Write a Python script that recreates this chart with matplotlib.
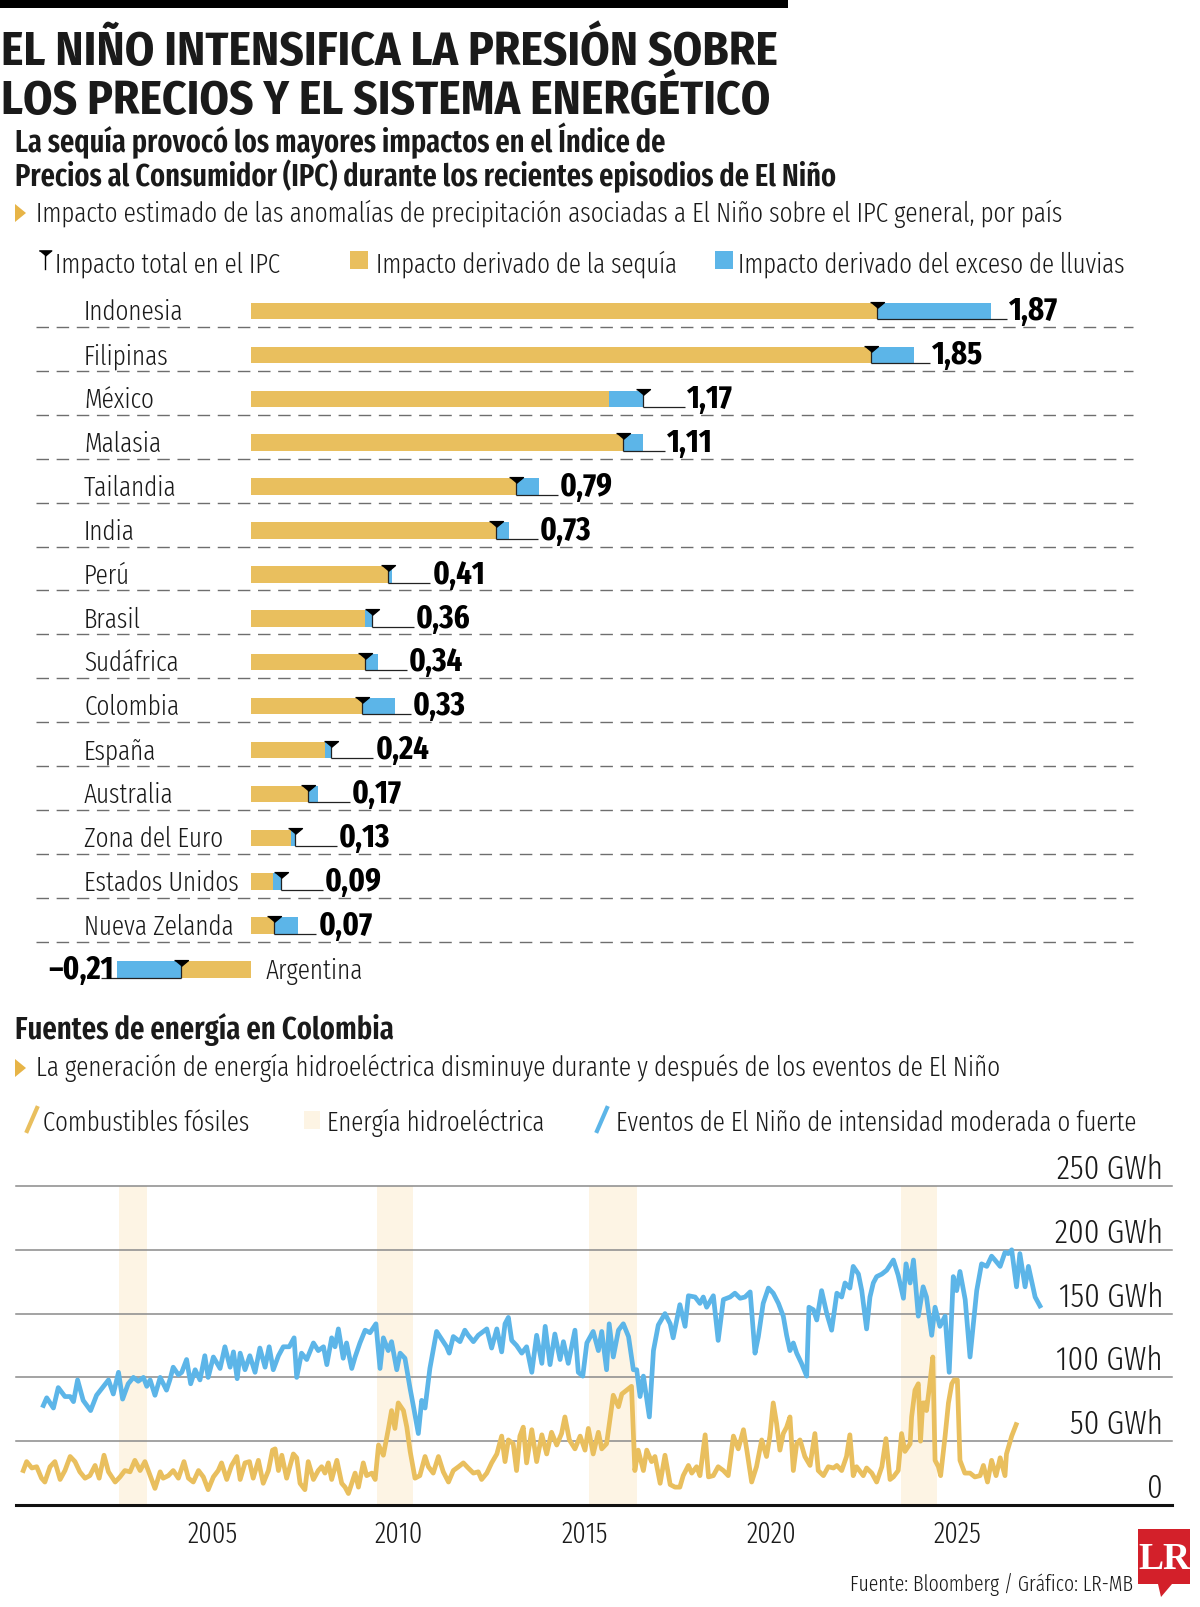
import numpy as np
import matplotlib
matplotlib.use("Agg")
import matplotlib.pyplot as plt
import matplotlib.transforms as mtransforms
from matplotlib.lines import Line2D
from matplotlib.patches import Polygon, Rectangle

# --- datos: impacto en el IPC por país ---
paises = ["Indonesia", "Filipinas", "México", "Malasia", "Tailandia", "India", "Perú", "Brasil",
          "Sudáfrica", "Colombia", "España", "Australia", "Zona del Euro", "Estados Unidos",
          "Nueva Zelanda", "Argentina"]
impacto_total = [1.87, 1.85, 1.17, 1.11, 0.79, 0.73, 0.41, 0.36, 0.34, 0.33, 0.24, 0.17, 0.13, 0.09,
                 0.07, -0.21]
impacto_sequia = [2.21, 1.98, 1.07, 1.17, 0.86, 0.77, 0.42, 0.34, 0.38, 0.43, 0.22, 0.20, 0.12, 0.065,
                  0.14, -0.40]

# --- datos: generación eléctrica en Colombia (GWh) ---
hidro_anio = [2000.44, 2000.53, 2000.71, 2000.84, 2001.02, 2001.16, 2001.25, 2001.36, 2001.51, 2001.71,
              2001.87, 2002.19, 2002.32, 2002.46, 2002.57, 2002.72, 2002.86, 2002.99, 2003.13, 2003.22,
              2003.31, 2003.44, 2003.58, 2003.75, 2003.84, 2003.93, 2004.07, 2004.16, 2004.29, 2004.40,
              2004.52, 2004.65, 2004.78, 2004.87, 2005.01, 2005.19, 2005.32, 2005.46, 2005.55, 2005.65,
              2005.73, 2005.86, 2005.99, 2006.13, 2006.26, 2006.40, 2006.51, 2006.62, 2006.76, 2006.89,
              2007.05, 2007.18, 2007.25, 2007.38, 2007.52, 2007.70, 2007.83, 2007.97, 2008.06, 2008.19,
              2008.28, 2008.37, 2008.50, 2008.59, 2008.73, 2008.82, 2008.95, 2009.09, 2009.22, 2009.38,
              2009.49, 2009.58, 2009.71, 2009.80, 2009.94, 2010.03, 2010.16, 2010.30, 2010.39, 2010.52,
              2010.61, 2010.70, 2010.83, 2011.01, 2011.28, 2011.35, 2011.46, 2011.64, 2011.77, 2011.86,
              2012.00, 2012.13, 2012.36, 2012.49, 2012.63, 2012.76, 2012.85, 2012.94, 2013.03, 2013.16,
              2013.30, 2013.43, 2013.57, 2013.70, 2013.84, 2013.93, 2014.06, 2014.19, 2014.33, 2014.42,
              2014.55, 2014.73, 2014.82, 2014.94, 2015.05, 2015.22, 2015.36, 2015.45, 2015.58, 2015.65,
              2015.76, 2015.90, 2016.03, 2016.17, 2016.30, 2016.39, 2016.48, 2016.57, 2016.73, 2016.84,
              2016.97, 2017.15, 2017.29, 2017.37, 2017.55, 2017.69, 2017.78, 2017.96, 2018.09, 2018.18,
              2018.27, 2018.45, 2018.58, 2018.72, 2018.90, 2019.03, 2019.17, 2019.30, 2019.44, 2019.57,
              2019.66, 2019.79, 2019.93, 2020.06, 2020.20, 2020.33, 2020.42, 2020.51, 2020.60, 2020.69,
              2020.82, 2020.96, 2021.02, 2021.14, 2021.23, 2021.36, 2021.50, 2021.63, 2021.77, 2021.90,
              2021.99, 2022.12, 2022.21, 2022.35, 2022.44, 2022.57, 2022.66, 2022.75, 2022.84, 2022.98,
              2023.11, 2023.29, 2023.42, 2023.56, 2023.63, 2023.74, 2023.83, 2023.96, 2024.09, 2024.18,
              2024.32, 2024.41, 2024.54, 2024.68, 2024.79, 2024.90, 2024.99, 2025.08, 2025.22, 2025.35,
              2025.53, 2025.66, 2025.80, 2025.93, 2026.02, 2026.16, 2026.29, 2026.38, 2026.47, 2026.60,
              2026.69, 2026.83, 2026.92, 2027.10, 2027.23]
hidro_gwh = [78, 84, 76, 92, 85, 85, 81, 98, 82, 74,
             86, 98, 87, 104, 83, 95, 100, 97, 100, 93,
             98, 86, 100, 90, 98, 108, 102, 104, 114, 95,
             106, 98, 117, 100, 116, 107, 124, 108, 120, 99,
             119, 106, 117, 104, 123, 108, 124, 106, 117, 124,
             124, 131, 100, 119, 114, 127, 121, 124, 110, 131,
             124, 138, 115, 127, 107, 116, 127, 137, 135, 142,
             107, 131, 121, 128, 106, 119, 115, 91, 77, 56,
             82, 76, 107, 136, 124, 119, 132, 128, 137, 133,
             128, 133, 138, 123, 138, 120, 142, 147, 129, 125,
             119, 124, 104, 133, 111, 140, 110, 134, 114, 128,
             111, 137, 104, 101, 127, 136, 121, 136, 106, 142,
             116, 137, 142, 132, 106, 106, 85, 101, 69, 121,
             141, 150, 142, 131, 157, 140, 164, 163, 158, 163,
             155, 164, 129, 161, 163, 166, 162, 163, 167, 119,
             132, 158, 170, 166, 158, 148, 133, 121, 127, 119,
             111, 101, 155, 153, 145, 168, 150, 137, 166, 163,
             174, 170, 187, 181, 168, 138, 163, 174, 179, 181,
             184, 192, 180, 162, 189, 174, 192, 148, 171, 163,
             133, 155, 140, 148, 104, 179, 168, 183, 161, 116,
             168, 189, 187, 195, 192, 187, 198, 197, 200, 171,
             197, 171, 187, 163, 156]

fosil_anio = [1999.90, 1999.99, 2000.13, 2000.26, 2000.39, 2000.48, 2000.62, 2000.75, 2000.89, 2001.02,
              2001.16, 2001.29, 2001.42, 2001.56, 2001.69, 2001.83, 2001.94, 2002.07, 2002.19, 2002.37,
              2002.50, 2002.63, 2002.77, 2002.90, 2003.04, 2003.17, 2003.31, 2003.44, 2003.58, 2003.66,
              2003.80, 2003.93, 2004.07, 2004.22, 2004.34, 2004.47, 2004.61, 2004.74, 2004.87, 2005.01,
              2005.14, 2005.23, 2005.37, 2005.50, 2005.64, 2005.73, 2005.86, 2005.98, 2006.08, 2006.22,
              2006.35, 2006.49, 2006.60, 2006.67, 2006.76, 2006.85, 2006.98, 2007.16, 2007.25, 2007.34,
              2007.47, 2007.56, 2007.70, 2007.83, 2007.92, 2008.01, 2008.10, 2008.19, 2008.33, 2008.46,
              2008.55, 2008.64, 2008.73, 2008.82, 2008.91, 2009.04, 2009.13, 2009.27, 2009.36, 2009.45,
              2009.58, 2009.71, 2009.80, 2009.89, 2009.98, 2010.12, 2010.21, 2010.30, 2010.43, 2010.56,
              2010.70, 2010.79, 2010.92, 2011.06, 2011.19, 2011.33, 2011.46, 2011.60, 2011.73, 2011.86,
              2012.00, 2012.13, 2012.22, 2012.36, 2012.49, 2012.63, 2012.76, 2012.85, 2012.94, 2013.07,
              2013.16, 2013.25, 2013.34, 2013.43, 2013.57, 2013.70, 2013.84, 2013.97, 2014.10, 2014.24,
              2014.37, 2014.46, 2014.58, 2014.73, 2014.87, 2015.00, 2015.09, 2015.22, 2015.36, 2015.45,
              2015.58, 2015.76, 2015.90, 2015.99, 2016.12, 2016.25, 2016.34, 2016.43, 2016.57, 2016.66,
              2016.79, 2016.88, 2017.02, 2017.15, 2017.29, 2017.42, 2017.55, 2017.64, 2017.78, 2017.87,
              2018.00, 2018.09, 2018.23, 2018.32, 2018.45, 2018.58, 2018.72, 2018.85, 2018.99, 2019.12,
              2019.26, 2019.35, 2019.48, 2019.61, 2019.75, 2019.88, 2019.97, 2020.06, 2020.15, 2020.24,
              2020.33, 2020.42, 2020.51, 2020.60, 2020.69, 2020.78, 2020.91, 2021.05, 2021.18, 2021.27,
              2021.41, 2021.54, 2021.68, 2021.77, 2021.90, 2022.03, 2022.12, 2022.21, 2022.30, 2022.48,
              2022.57, 2022.71, 2022.84, 2022.98, 2023.09, 2023.20, 2023.29, 2023.42, 2023.51, 2023.60,
              2023.74, 2023.78, 2023.87, 2023.96, 2024.02, 2024.08, 2024.14, 2024.18, 2024.27, 2024.35,
              2024.41, 2024.50, 2024.56, 2024.68, 2024.77, 2024.86, 2024.92, 2025.01, 2025.08, 2025.21,
              2025.35, 2025.48, 2025.62, 2025.71, 2025.82, 2025.93, 2026.05, 2026.16, 2026.29, 2026.33,
              2026.47, 2026.59]
fosil_gwh = [27, 34, 29, 30, 21, 18, 30, 34, 20, 27,
             38, 34, 26, 21, 23, 31, 21, 39, 26, 18,
             22, 27, 26, 35, 27, 34, 23, 13, 26, 21,
             23, 27, 21, 34, 21, 18, 27, 22, 12, 22,
             27, 33, 20, 31, 38, 20, 33, 34, 21, 35,
             17, 27, 43, 44, 27, 39, 21, 40, 37, 17,
             12, 34, 20, 27, 30, 25, 33, 20, 35, 17,
             14, 9, 17, 25, 14, 33, 23, 25, 20, 47,
             39, 59, 74, 60, 80, 74, 61, 42, 21, 23,
             38, 30, 25, 38, 26, 18, 27, 30, 33, 29,
             25, 26, 20, 25, 33, 40, 54, 34, 51, 48,
             27, 54, 61, 33, 59, 34, 55, 40, 57, 47,
             56, 69, 51, 44, 54, 43, 60, 40, 57, 44,
             48, 86, 77, 87, 90, 93, 27, 43, 27, 43,
             34, 38, 17, 39, 16, 14, 14, 23, 31, 25,
             30, 23, 55, 22, 23, 30, 27, 23, 54, 44,
             59, 43, 18, 30, 51, 38, 54, 80, 64, 43,
             56, 61, 69, 27, 48, 51, 38, 31, 56, 27,
             23, 30, 29, 31, 27, 38, 55, 23, 30, 23,
             29, 25, 18, 30, 52, 20, 22, 27, 56, 42,
             48, 69, 90, 95, 50, 80, 80, 74, 95, 116,
             35, 30, 23, 54, 80, 95, 98, 98, 35, 25,
             25, 22, 23, 31, 18, 35, 23, 37, 23, 40,
             54, 63]

nino_inicio = [2002.47, 2009.40, 2015.12, 2023.49]
nino_fin = [2003.23, 2010.38, 2016.39, 2024.47]

anios_eje = [2005, 2010, 2015, 2020, 2025]
gwh_eje = [0, 50, 100, 150, 200, 250]

AMARILLO = "#e9bf5e"
AZUL = "#5cb5e8"
CREMA = "#fdf4e4"
TRIANGULO = "#e7b447"
TINTA = "#1a1a1a"

COND = ["Fira Sans Extra Condensed", "Roboto Condensed", "DejaVu Sans"]
SEMI = ["Fira Sans Condensed", "Roboto Condensed", "DejaVu Sans"]

W, H = 1200, 1607
fig = plt.figure(figsize=(W / 100, H / 100), dpi=100)
fig.patch.set_facecolor("white")
renderer = fig.canvas.get_renderer()


def fx(x):
    return x / W


def fy(y):
    return 1 - y / H


def ptext(x, y, s, **kw):
    kw.setdefault("va", "baseline")
    kw.setdefault("color", TINTA)
    return fig.text(fx(x), fy(y), s, **kw)


def fit_size(s, width_px, **kw):
    probe = fig.text(0, 0, s, fontsize=20, **kw)
    w = probe.get_window_extent(renderer).width
    probe.remove()
    return 20 * width_px / w


def fmt(v):
    txt = f"{abs(v):.2f}".replace(".", ",")
    return ("\u2013" + txt) if v < 0 else txt


# --- cabecera ---
fig.add_artist(Rectangle((0, fy(8)), fx(788), 8 / H, transform=fig.transFigure, color="black", lw=0))
st = dict(family=SEMI, weight=700)
sz = fit_size("EL NIÑO INTENSIFICA LA PRESIÓN SOBRE", 775, **st)
ptext(1, 65, "EL NIÑO INTENSIFICA LA PRESIÓN SOBRE", fontsize=sz, **st)
ptext(1, 114, "LOS PRECIOS Y EL SISTEMA ENERGÉTICO", fontsize=sz, **st)

sb = dict(family=COND, weight=600)
sz = fit_size("Precios al Consumidor (IPC) durante los recientes episodios de El Niño", 826, **sb)
ptext(15, 152, "La sequía provocó los mayores impactos en el Índice de", fontsize=sz, **sb)
ptext(15, 186, "Precios al Consumidor (IPC) durante los recientes episodios de El Niño", fontsize=sz, **sb)

lt = dict(family=COND, weight=300)
s_sub = "Impacto estimado de las anomalías de precipitación asociadas a El Niño sobre el IPC general, por país"
ptext(36, 222, s_sub, fontsize=fit_size(s_sub, 1030, **lt), **lt)
fig.add_artist(Polygon([(fx(15), fy(204)), (fx(26), fy(213)), (fx(15), fy(222))], closed=True,
                       transform=fig.transFigure, color=TRIANGULO, lw=0))

# leyenda del gráfico de barras
TRI = [(-1.2, 0.5), (1.2, 0.5), (0, -0.5)]
sz_leg = fit_size("Impacto derivado del exceso de lluvias", 386, **lt)
fig.add_artist(Line2D([fx(45)], [fy(253)], marker=TRI, markersize=9, color="black", lw=0,
                      transform=fig.transFigure))
fig.add_artist(Line2D([fx(45), fx(45)], [fy(255), fy(269)], color="black", lw=1,
                      transform=fig.transFigure))
ptext(55, 273, "Impacto total en el IPC", fontsize=sz_leg, **lt)
fig.add_artist(Rectangle((fx(350), fy(269)), fx(18), 18 / H, transform=fig.transFigure,
                         color=AMARILLO, lw=0))
ptext(376, 273, "Impacto derivado de la sequía", fontsize=sz_leg, **lt)
fig.add_artist(Rectangle((fx(715), fy(269)), fx(18), 18 / H, transform=fig.transFigure,
                         color=AZUL, lw=0))
ptext(738, 273, "Impacto derivado del exceso de lluvias", fontsize=sz_leg, **lt)

# --- barras ---
PXU = 335.0   # px por punto de IPC
ROW = 43.9    # px por fila
X0, Y0 = 251, 311
ax = fig.add_axes([0, fy(1000), 1, (1000 - 240) / H])
ax.set_xlim(-X0 / PXU, (W - X0) / PXU)
ax.set_ylim((1000 - Y0) / ROW, (240 - Y0) / ROW)
ax.axis("off")

filas = np.arange(len(paises))
total = np.array(impacto_total)
sequia = np.array(impacto_sequia)
cerca = np.where(np.abs(sequia) <= np.abs(total), sequia, total)
lejos = np.where(np.abs(sequia) <= np.abs(total), total, sequia)
bh = 16.5 / ROW

ax.hlines(filas[:-1] + 16 / ROW, -215 / PXU, 882 / PXU, colors="#6e6e6e", lw=1,
          linestyles=(0, (9, 5.5)), zorder=1)
ax.barh(filas, cerca, height=bh, color=AMARILLO, lw=0, zorder=2)
ax.barh(filas, lejos - cerca, left=cerca, height=bh, color=AZUL, lw=0, zorder=2)

sz_val = fit_size("0,79", 53, family=COND, weight=700)
sz_pais = fit_size("Estados Unidos", 155, **lt)
for i, (p, t, d) in enumerate(zip(paises, total, sequia)):
    top = i - bh / 2
    bot = i + bh / 2
    ax.plot([t], [top + 1.9 / ROW], marker=TRI, markersize=10, color="black", lw=0, zorder=4)
    ax.vlines(t, top + 3 / ROW, bot, colors="#222222", lw=0.9, zorder=3)
    if t >= 0:
        fin = max(t + 42 / PXU, max(t, d) + 16 / PXU)
        ax.hlines(bot, t, fin, colors="#222222", lw=0.9, zorder=3)
        ax.text(fin + 2 / PXU, bot + 1 / ROW, fmt(t), ha="left", va="baseline", fontsize=sz_val,
                family=COND, weight=700, color="black")
        ax.text(-167 / PXU, bot + 1 / ROW, p, ha="left", va="baseline", fontsize=sz_pais,
                color=TINTA, **lt)
    else:
        fin = min(t - 42 / PXU, min(t, d) - 16 / PXU)
        ax.hlines(bot, fin, t, colors="#222222", lw=0.9, zorder=3)
        ax.text(fin + 13 / PXU, bot + 1 / ROW, fmt(t), ha="right", va="baseline", fontsize=sz_val,
                family=COND, weight=700, color="black")
        ax.text(15 / PXU, bot + 1 / ROW, p, ha="left", va="baseline", fontsize=sz_pais,
                color=TINTA, **lt)

# --- energía en Colombia ---
sz = fit_size("Fuentes de energía en Colombia", 381, **sb)
ptext(15, 1039, "Fuentes de energía en Colombia", fontsize=sz, **sb)
s_sub2 = "La generación de energía hidroeléctrica disminuye durante y después de los eventos de El Niño"
ptext(36, 1076, s_sub2, fontsize=fit_size(s_sub2, 966, **lt), **lt)
fig.add_artist(Polygon([(fx(15), fy(1059)), (fx(26), fy(1068)), (fx(15), fy(1077))], closed=True,
                       transform=fig.transFigure, color=TRIANGULO, lw=0))

sz_leg2 = fit_size("Eventos de El Niño de intensidad moderada o fuerte", 520, **lt)
fig.add_artist(Line2D([fx(27), fx(37)], [fy(1131), fy(1108)], color=AMARILLO, lw=3,
                      transform=fig.transFigure))
ptext(43, 1131, "Combustibles fósiles", fontsize=sz_leg2, **lt)
fig.add_artist(Rectangle((fx(304), fy(1129)), fx(16), 18 / H, transform=fig.transFigure,
                         color=CREMA, lw=0))
ptext(327, 1131, "Energía hidroeléctrica", fontsize=sz_leg2, **lt)
fig.add_artist(Line2D([fx(597), fx(607)], [fy(1131), fy(1108)], color=AZUL, lw=3,
                      transform=fig.transFigure))
ptext(616, 1131, "Eventos de El Niño de intensidad moderada o fuerte", fontsize=sz_leg2, **lt)

PXY = 37.2  # px por año, 2005 en x=213
ax2 = fig.add_axes([fx(16), fy(1505), (1172 - 16) / W, (1505 - 1186) / H])
ax2.set_xlim(2005 + (16 - 213) / PXY, 2005 + (1172 - 213) / PXY)
ax2.set_ylim(0, 250)
for s in ax2.spines.values():
    s.set_visible(False)
ax2.set_yticks([])

for a, b in zip(nino_inicio, nino_fin):
    ax2.axvspan(a, b, color=CREMA, lw=0, zorder=0)
for v in gwh_eje[1:]:
    ax2.axhline(v, color="#8a8a8a", lw=1.1, zorder=1, clip_on=False)
ax2.axhline(0, color="#111111", lw=2.2, zorder=5, clip_on=False)

ax2.plot(fosil_anio, fosil_gwh, color=AMARILLO, lw=3.4, solid_joinstyle="round", zorder=3)
ax2.plot(hidro_anio, hidro_gwh, color=AZUL, lw=3.4, solid_joinstyle="round", zorder=4)

sz_eje = fit_size("250 GWh", 106, **lt)
ytr = mtransforms.offset_copy(ax2.get_yaxis_transform(), fig=fig, x=0, y=7, units="dots")
for v in gwh_eje:
    lab = "0" if v == 0 else f"{v} GWh"
    ax2.text(0.9922, v, lab, transform=ytr, ha="right", va="baseline", fontsize=sz_eje,
             color=TINTA, clip_on=False, **lt)

ax2.set_xticks(anios_eje, [str(a) for a in anios_eje])
ax2.tick_params(axis="x", length=0, pad=27.5)
for lab in ax2.get_xticklabels():
    lab.set_fontsize(fit_size("2010", 48, **lt))
    lab.set_family(COND)
    lab.set_weight(300)
    lab.set_color(TINTA)
    lab.set_verticalalignment("baseline")

# --- pie ---
s_pie = "Fuente: Bloomberg / Gráfico: LR-MB"
ptext(1133, 1591, s_pie, ha="right", fontsize=fit_size(s_pie, 283, **lt), **lt)
ROJO = "#d3202a"
fig.add_artist(Polygon([(fx(1138), fy(1529)), (fx(1190), fy(1529)), (fx(1190), fy(1584)),
                        (fx(1172), fy(1584)), (fx(1161), fy(1597)), (fx(1158), fy(1584)),
                        (fx(1138), fy(1584))], closed=True, transform=fig.transFigure,
                       color=ROJO, lw=0))
ptext(1164, 1569, "LR", ha="center", fontsize=27, weight="bold", color="white",
      family=["Liberation Serif", "DejaVu Serif"])

fig.savefig("out.png", dpi=100, facecolor="white")
